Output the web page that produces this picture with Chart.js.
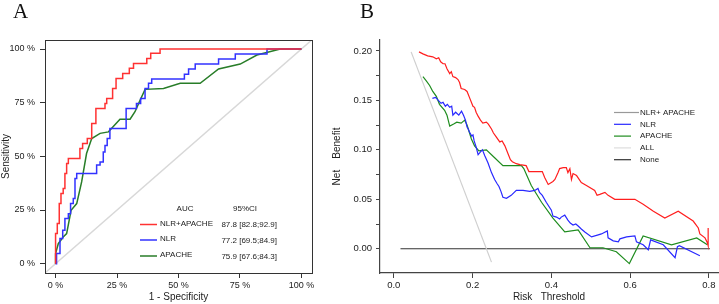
<!DOCTYPE html>
<html>
<head>
<meta charset="utf-8">
<script src="https://cdn.jsdelivr.net/npm/chart.js@4.4.1/dist/chart.umd.min.js"></script>
<style>
  body { margin: 0; background: #fff; }
  #wrap { position: relative; width: 719px; height: 304px; overflow: hidden; }
  .panel-label { position: absolute; top: 1px; font: 21px "Liberation Serif", "DejaVu Serif", serif; line-height: 21px; color: #111; }
  canvas { position: absolute; top: 0; }
</style>
</head>
<body>
<div id="wrap">
  <canvas id="rocChart" width="360" height="304" style="left:0"></canvas>
  <canvas id="dcaChart" width="389" height="304" style="left:330px"></canvas>
  <div class="panel-label" style="left:13px">A</div>
  <div class="panel-label" style="left:360px">B</div>
</div>
<script>
// ---- panel A: ROC curves (1 - specificity %, sensitivity %) ----
const rocModels = ['NLR+APACHE', 'NLR', 'APACHE'];
const rocAuc = ['87.8 [82.8;92.9]', '77.2 [69.5;84.9]', '75.9 [67.6;84.3]'];

const comboFpr = [0, 0, 0.7, 1.5, 2.2, 3.1, 3.8, 4.5, 5.2, 9.9, 11, 12.9, 14.7, 16.4, 20.1, 20.8, 23.2, 24.6, 27.3, 30, 31.7, 37.1, 38.7, 42.5, 100];
const comboSens = [0, 14, 18.7, 28, 32.7, 35, 42, 46.7, 49, 53.7, 56, 58.3, 65.3, 72.3, 74.6, 77, 81.6, 86.3, 88.6, 91, 93.3, 95.6, 98, 100, 100];

const nlrFpr = [0, 0.4, 1.8, 2.9, 3.8, 5.2, 6.1, 7.2, 7.9, 8.6, 16.7, 18.1, 19.4, 20.1, 21, 22.1, 28.7, 32.9, 34.6, 36.4, 37.8, 39.1, 52.4, 54.1, 56.8, 66.3, 73.1, 86, 100];
const nlrSens = [0, 4.7, 11.7, 15.6, 21, 23.3, 28, 30.3, 39.7, 42, 46, 47.4, 52, 55, 58.3, 63, 72.3, 74.6, 77, 81.6, 84, 86, 88.3, 90.7, 93, 95.3, 97.7, 100, 100];

const apacheFpr = [0, 0, 1.1, 3.1, 4.5, 5.8, 6.3, 8.6, 10.6, 12.6, 14.7, 18.1, 21.5, 26.2, 30.3, 32.3, 34.4, 36.4, 43.9, 50.7, 58.8, 66.3, 75.1, 81.9, 91.4, 100];
const apacheSens = [0, 4.7, 9.3, 12.4, 14, 21.8, 24.9, 28, 38.1, 51.3, 58.3, 60.7, 61.4, 67.3, 67.3, 70.8, 76.2, 81.2, 81.6, 84, 84, 90.7, 93, 97.2, 100, 100];

const rocTicks = [0, 25, 50, 75, 100];

// ---- panel B: decision curves (risk threshold, net benefit) ----
const dcaLabels = ['NLR+ APACHE', 'NLR', 'APACHE', 'ALL', 'None'];

const comboT = [0.064, 0.074, 0.086, 0.099, 0.108, 0.114, 0.119, 0.125, 0.130, 0.135, 0.142, 0.146, 0.150, 0.157, 0.163, 0.167, 0.171, 0.180, 0.186, 0.192, 0.201, 0.205, 0.209, 0.214, 0.220, 0.226, 0.235, 0.240, 0.248, 0.253, 0.260, 0.269, 0.275, 0.282, 0.290, 0.296, 0.301, 0.311, 0.320, 0.336, 0.343, 0.377, 0.383, 0.392, 0.404, 0.409, 0.417, 0.421, 0.430, 0.438, 0.442, 0.447, 0.451, 0.455, 0.464, 0.476, 0.489, 0.510, 0.516, 0.523, 0.536, 0.544, 0.561, 0.612, 0.633, 0.659, 0.688, 0.722, 0.760, 0.773, 0.777, 0.790, 0.796, 0.798, 0.798];
const comboNB = [0.199, 0.197, 0.195, 0.194, 0.192, 0.193, 0.189, 0.187, 0.187, 0.182, 0.177, 0.179, 0.174, 0.173, 0.171, 0.168, 0.162, 0.161, 0.159, 0.153, 0.144, 0.143, 0.138, 0.134, 0.130, 0.127, 0.128, 0.126, 0.121, 0.117, 0.113, 0.108, 0.109, 0.104, 0.096, 0.090, 0.088, 0.086, 0.085, 0.084, 0.078, 0.078, 0.072, 0.065, 0.068, 0.070, 0.077, 0.081, 0.082, 0.082, 0.077, 0.081, 0.070, 0.076, 0.074, 0.067, 0.064, 0.059, 0.054, 0.055, 0.057, 0.054, 0.050, 0.050, 0.045, 0.038, 0.031, 0.038, 0.028, 0.021, 0.015, 0.011, 0.006, 0.003, 0.021];

const nlrT = [0.098, 0.106, 0.113, 0.120, 0.125, 0.131, 0.136, 0.142, 0.147, 0.150, 0.157, 0.165, 0.172, 0.177, 0.182, 0.186, 0.189, 0.192, 0.198, 0.201, 0.204, 0.209, 0.214, 0.220, 0.225, 0.231, 0.239, 0.248, 0.256, 0.262, 0.267, 0.272, 0.277, 0.286, 0.298, 0.311, 0.328, 0.345, 0.358, 0.366, 0.370, 0.377, 0.387, 0.400, 0.404, 0.413, 0.421, 0.425, 0.434, 0.442, 0.448, 0.455, 0.462, 0.468, 0.476, 0.485, 0.502, 0.519, 0.527, 0.542, 0.544, 0.557, 0.570, 0.574, 0.591, 0.612, 0.616, 0.633, 0.646, 0.652, 0.684, 0.714, 0.720, 0.725, 0.777];
const nlrNB = [0.152, 0.153, 0.150, 0.147, 0.148, 0.144, 0.146, 0.143, 0.144, 0.135, 0.138, 0.135, 0.139, 0.135, 0.130, 0.123, 0.121, 0.118, 0.114, 0.115, 0.109, 0.103, 0.095, 0.098, 0.100, 0.094, 0.087, 0.077, 0.070, 0.066, 0.063, 0.058, 0.052, 0.051, 0.054, 0.059, 0.059, 0.058, 0.059, 0.061, 0.057, 0.054, 0.047, 0.039, 0.033, 0.032, 0.030, 0.032, 0.034, 0.029, 0.026, 0.024, 0.025, 0.023, 0.020, 0.017, 0.012, 0.014, 0.015, 0.018, 0.011, 0.008, 0.007, 0.010, 0.012, 0.013, 0.007, 0.004, -0.001, 0.009, 0.004, -0.009, 0.002, 0.003, -0.007];

const apacheT = [0.074, 0.082, 0.091, 0.099, 0.108, 0.116, 0.129, 0.135, 0.142, 0.152, 0.160, 0.171, 0.180, 0.186, 0.197, 0.205, 0.216, 0.235, 0.256, 0.277, 0.324, 0.330, 0.349, 0.375, 0.404, 0.434, 0.468, 0.498, 0.531, 0.565, 0.598, 0.633, 0.705, 0.769, 0.796];
const apacheNB = [0.174, 0.170, 0.165, 0.159, 0.154, 0.146, 0.140, 0.135, 0.124, 0.126, 0.128, 0.127, 0.130, 0.125, 0.111, 0.104, 0.099, 0.100, 0.092, 0.084, 0.084, 0.081, 0.064, 0.047, 0.031, 0.017, 0.019, 0.001, 0.001, -0.003, -0.015, 0.013, 0.004, 0.011, 0.004];

const allT = [0.044, 0.248];
const allNB = [0.199, -0.0135];
const noneT = [0.017, 0.8025];
const noneNB = [0, 0];

const dcaXTicks = [0, 0.2, 0.4, 0.6, 0.8];

const FONT = '"Liberation Sans", Arial, sans-serif';

function toPoints(xs, ys) {
    return xs.map((x, i) => ({ x: x, y: ys[i] }));
}

// full box around panel A
const boxPlugin = {
    id: 'box',
    afterDraw(chart) {
        const a = chart.chartArea;
        const ctx = chart.ctx;
        ctx.save();
        ctx.strokeStyle = '#333';
        ctx.lineWidth = 1;
        ctx.strokeRect(Math.round(a.left) + 0.5, Math.round(a.top) + 0.5, Math.round(a.right - a.left), Math.round(a.bottom - a.top));
        ctx.restore();
    }
};

// AUC table in panel A
const rocLegend = {
    id: 'rocLegend',
    afterDraw(chart) {
        const a = chart.chartArea;
        const ctx = chart.ctx;
        ctx.save();
        ctx.font = '8px ' + FONT;
        ctx.fillStyle = '#222';
        ctx.textBaseline = 'middle';
        ctx.textAlign = 'center';
        ctx.fillText('AUC', a.left + 140, a.top + 169);
        ctx.fillText('95%CI', a.left + 200, a.top + 169);
        const rows = [184, 199.5, 215.5];
        rocModels.forEach((name, i) => {
            const y = a.top + rows[i];
            ctx.strokeStyle = chart.data.datasets[i].borderColor;
            ctx.lineWidth = 1.5;
            ctx.beginPath();
            ctx.moveTo(a.left + 95, y + 0.5);
            ctx.lineTo(a.left + 112, y + 0.5);
            ctx.stroke();
            ctx.textAlign = 'left';
            ctx.fillText(name, a.left + 115, y - 0.5);
            ctx.textAlign = 'right';
            ctx.fillText(rocAuc[i], a.right - 35, y + 1);
        });
        ctx.restore();
    }
};

// legend in panel B
const dcaLegend = {
    id: 'dcaLegend',
    afterDraw(chart) {
        const a = chart.chartArea;
        const ctx = chart.ctx;
        ctx.save();
        ctx.font = '8px ' + FONT;
        ctx.fillStyle = '#222';
        ctx.textBaseline = 'middle';
        const legendColors = ['#999', 'rgb(40,40,255)', 'rgb(30,140,30)', '#ddd', '#333'];
        dcaLabels.forEach((name, i) => {
            const y = a.top + 72.5 + i * 11.8;
            ctx.strokeStyle = legendColors[i];
            ctx.lineWidth = 1.2;
            ctx.beginPath();
            ctx.moveTo(a.right - 104, y);
            ctx.lineTo(i === 0 ? a.right - 79 : a.right - 87, y);
            ctx.stroke();
            ctx.fillText(name, a.right - 78, y);
        });
        ctx.restore();
    }
};

function drawRoc() {
    const ctx = document.getElementById('rocChart').getContext('2d');
    new Chart(ctx, {
        type: 'scatter',
        data: {
            datasets: [
                { data: toPoints(comboFpr, comboSens), borderColor: 'rgb(255,50,50)', stepped: 'before' },
                { data: toPoints(nlrFpr, nlrSens), borderColor: 'rgb(50,50,255)', stepped: 'before' },
                { data: toPoints(apacheFpr, apacheSens), borderColor: 'rgb(40,125,40)' },
                { data: [{ x: -5, y: -5 }, { x: 105, y: 105 }], borderColor: '#d8d8d8' }
            ].map(d => Object.assign({ showLine: true, pointRadius: 0, borderWidth: 1.5, tension: 0 }, d))
        },
        options: {
            responsive: false,
            animation: false,
            layout: { padding: { left: 0, right: 48, top: 40, bottom: 0 } },
            plugins: { legend: { display: false }, tooltip: { enabled: false } },
            scales: {
                x: {
                    min: -4.3, max: 104.3,
                    afterFit: s => { s.height = 31; },
                    ticks: { stepSize: 25, includeBounds: false, autoSkip: false, maxRotation: 0, padding: 2, color: '#222', font: { size: 9, family: FONT }, callback: v => rocTicks.includes(v) ? v + ' %' : '' },
                    grid: { drawOnChartArea: false, tickLength: 5, color: '#333' },
                    border: { display: false },
                    title: { display: true, text: '1 - Specificity', color: '#222', font: { size: 10, family: FONT }, padding: { top: 0, bottom: 1 } }
                },
                y: {
                    min: -4.35, max: 104.2,
                    afterFit: s => { s.width = 45; },
                    ticks: { stepSize: 25, includeBounds: false, autoSkip: false, padding: 5, color: '#222', font: { size: 9, family: FONT }, callback: v => rocTicks.includes(v) ? v + ' %' : '' },
                    grid: { drawOnChartArea: false, tickLength: 5, color: '#333' },
                    border: { display: false },
                    title: { display: true, text: 'Sensitivity', color: '#222', font: { size: 10, family: FONT }, padding: { top: 0, bottom: 0 } }
                }
            }
        },
        plugins: [boxPlugin, rocLegend]
    });
}

function drawDca() {
    const ctx = document.getElementById('dcaChart').getContext('2d');
    new Chart(ctx, {
        type: 'scatter',
        data: {
            datasets: [
                { data: toPoints(comboT, comboNB), borderColor: 'rgb(255,30,30)' },
                { data: toPoints(nlrT, nlrNB), borderColor: 'rgb(40,40,255)' },
                { data: toPoints(apacheT, apacheNB), borderColor: 'rgb(30,140,30)' },
                { data: toPoints(allT, allNB), borderColor: '#cfcfcf' },
                { data: toPoints(noneT, noneNB), borderColor: '#333' }
            ].map(d => Object.assign({ showLine: true, pointRadius: 0, borderWidth: 1.2, tension: 0 }, d))
        },
        options: {
            responsive: false,
            animation: false,
            layout: { padding: { left: 0, right: 1, top: 40, bottom: 0 } },
            plugins: { legend: { display: false }, tooltip: { enabled: false } },
            scales: {
                x: {
                    min: -0.035, max: 0.823,
                    afterFit: s => { s.height = 31; },
                    ticks: { stepSize: 0.2, includeBounds: false, autoSkip: false, maxRotation: 0, padding: 2, color: '#222', font: { size: 9.5, family: FONT }, callback: v => v.toFixed(1) },
                    grid: { drawOnChartArea: false, tickLength: 5, color: '#444' },
                    border: { display: true, color: '#444', width: 1.2 },
                    title: { display: true, text: 'Risk   Threshold', color: '#222', font: { size: 10, family: FONT }, padding: { top: 0, bottom: 1 } }
                },
                y: {
                    min: -0.0245, max: 0.211,
                    afterFit: s => { s.width = 50; },
                    ticks: {
                        stepSize: 0.025, includeBounds: false, autoSkip: false, padding: 4, color: '#222', font: { size: 9.5, family: FONT },
                        callback: v => Math.abs(v * 20 - Math.round(v * 20)) < 1e-6 ? v.toFixed(2) : ''
                    },
                    grid: { drawOnChartArea: false, tickLength: 4, color: '#444' },
                    border: { display: true, color: '#444', width: 1.2 },
                    title: { display: true, text: 'Net    Benefit', color: '#222', font: { size: 10, family: FONT }, padding: { top: 1, bottom: 0 } }
                }
            }
        },
        plugins: [dcaLegend]
    });
}

drawRoc();
drawDca();
</script>
</body>
</html>
